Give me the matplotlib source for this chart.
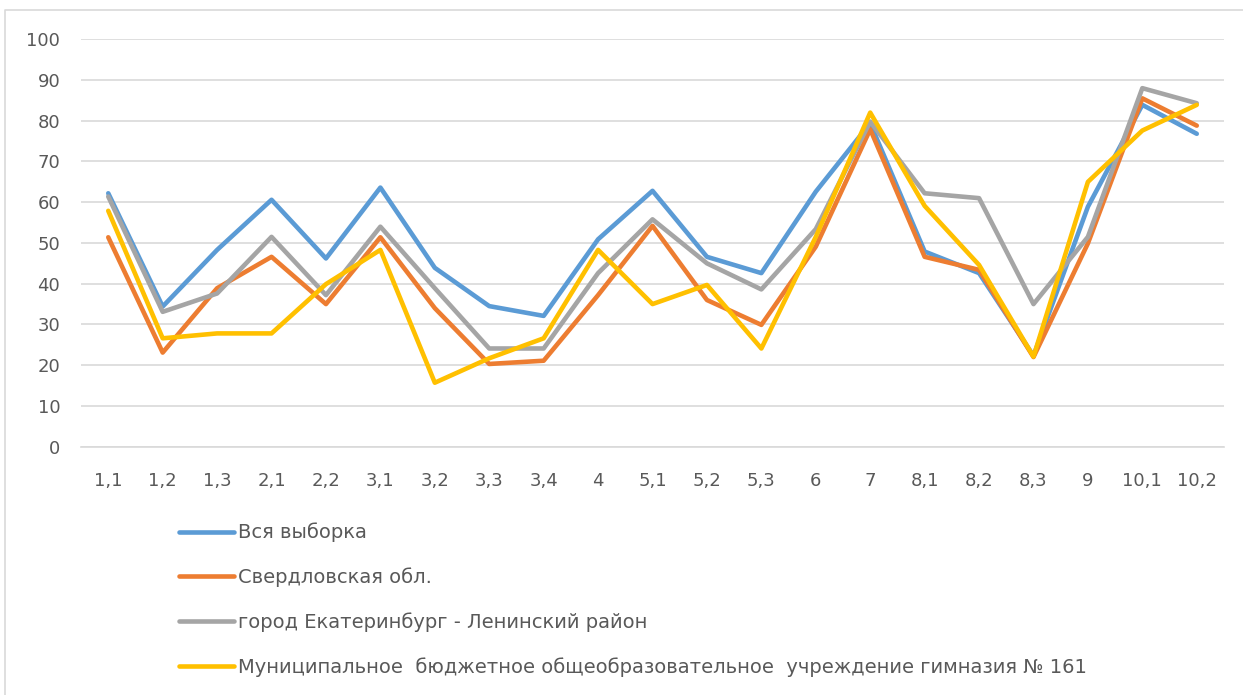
import matplotlib
matplotlib.use("Agg")
import matplotlib.pyplot as plt
from matplotlib.lines import Line2D

# Task numbers along the x axis
tasks = ["1,1", "1,2", "1,3", "2,1", "2,2", "3,1", "3,2", "3,3", "3,4", "4",
         "5,1", "5,2", "5,3", "6", "7", "8,1", "8,2", "8,3", "9", "10,1", "10,2"]

# Percent of correct answers per group
whole_sample = [62.2, 34.4, 48.3, 60.6, 46.2, 63.6, 43.9, 34.5, 32.1, 50.9,
                62.8, 46.6, 42.6, 62.6, 79.4, 47.9, 42.6, 22.3, 58.9, 83.9, 76.8]
sverdlovsk = [51.4, 23.1, 38.9, 46.6, 35.0, 51.4, 34.0, 20.3, 21.1, 37.2,
              54.2, 36.0, 29.9, 49.1, 77.9, 46.6, 43.4, 22.0, 49.9, 85.5, 78.8]
leninsky = [61.4, 33.1, 37.6, 51.5, 37.2, 54.0, 38.9, 24.1, 24.1, 42.6,
            55.8, 45.0, 38.6, 53.4, 79.8, 62.2, 61.0, 35.0, 51.5, 88.0, 84.3]
school_161 = [57.9, 26.6, 27.8, 27.8, 39.9, 48.3, 15.7, 21.7, 26.6, 48.3,
              35.0, 39.7, 24.1, 51.5, 82.0, 59.1, 44.6, 22.1, 65.0, 77.6, 83.9]

labels = ["Вся выборка",
          "Свердловская обл.",
          "город Екатеринбург - Ленинский район",
          "Муниципальное  бюджетное общеобразовательное  учреждение гимназия № 161"]
colors = ["#5B9BD5", "#ED7D31", "#A5A5A5", "#FFC000"]

plt.rcParams["font.family"] = ["DejaVu Sans"]

fig = plt.figure(figsize=(12.43, 6.95), dpi=100)
ax = fig.add_axes([0.0652, 0.3573, 0.9195, 0.5862])

x = range(len(tasks))
for series, label, color in zip([whole_sample, sverdlovsk, leninsky, school_161], labels, colors):
    ax.plot(x, series, color=color, linewidth=3.3, label=label, solid_joinstyle="round",
            solid_capstyle="round")

ax.set_xlim(-0.5, len(tasks) - 0.5)
ax.set_ylim(0, 100)
ax.set_yticks(range(0, 101, 10))
ax.set_xticks(list(x))
ax.set_xticklabels(tasks)
ax.grid(axis="y", color="#D9D9D9", linewidth=1.2)
ax.set_axisbelow(True)
for side in ["top", "right", "left"]:
    ax.spines[side].set_visible(False)
ax.spines["bottom"].set_color("#D9D9D9")
ax.spines["bottom"].set_linewidth(1.2)
ax.tick_params(length=0, labelsize=13, colors="#595959")
ax.tick_params(axis="x", pad=18)
ax.tick_params(axis="y", pad=15)

fig.legend(loc="upper left", bbox_to_anchor=(0.138, 0.259), frameon=False,
           fontsize=14, handlelength=2.83, handletextpad=0.2, labelspacing=1.29,
           labelcolor="#595959", borderaxespad=0)

# Chart area border (only left and top edges are visible)
fig.lines.append(Line2D([0.004, 0.004, 1.0], [0.0, 0.986, 0.986], transform=fig.transFigure,
                        color="#D9D9D9", linewidth=1.2))

fig.savefig("out.png", dpi=100)
